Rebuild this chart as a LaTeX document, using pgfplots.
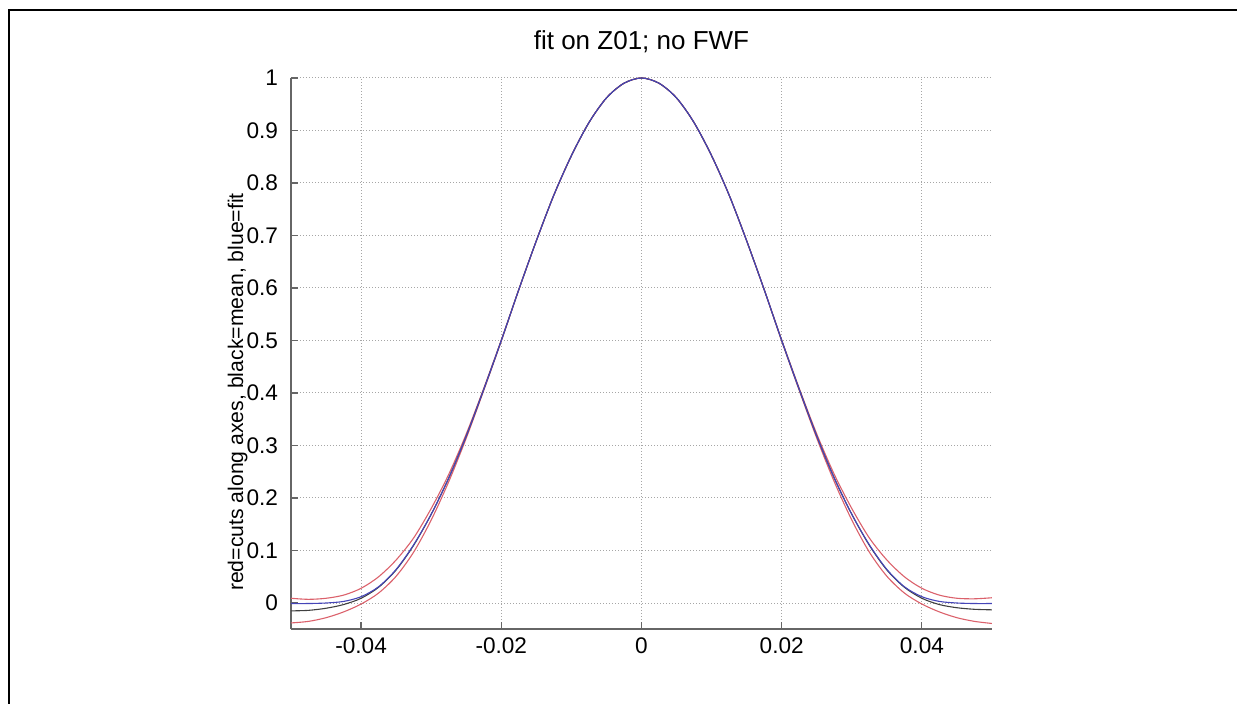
\documentclass[border=0pt]{standalone}
\usepackage{pgfplots}
\pgfplotsset{compat=1.18}
\usepackage{pgfplotstable}
\usepackage{fontspec}
\setmainfont{Liberation Sans}

% columns: x, fit (blue), mean (black), upper cut, lower cut
\pgfplotstableread{
x       blue    black   rup     rlo
-0.0500 -0.001  -0.015  0.009   -0.038
-0.0475 -0.001  -0.014  0.007   -0.035
-0.0450 0.000   -0.010  0.009   -0.028
-0.0425 0.003   -0.003  0.015   -0.017
-0.0400 0.012   0.009   0.028   -0.002
-0.0375 0.031   0.030   0.050   0.019
-0.0350 0.064   0.063   0.082   0.051
-0.0325 0.111   0.110   0.124   0.097
-0.0300 0.169   0.169   0.180   0.158
-0.0275 0.238   0.238   0.245   0.231
-0.0250 0.318   0.318   0.322   0.314
-0.0225 0.407   0.407   0.409   0.405
-0.0200 0.500   0.500   0.501   0.499
-0.0175 0.597   0.597   0.597   0.597
-0.0150 0.690   0.690   0.690   0.690
-0.0125 0.777   0.777   0.777   0.777
-0.0100 0.852   0.852   0.852   0.852
-0.0075 0.915   0.915   0.915   0.915
-0.0050 0.962   0.962   0.962   0.962
-0.0025 0.990   0.990   0.990   0.990
0.0000  1.000   1.000   1.000   1.000
0.0025  0.990   0.990   0.990   0.990
0.0050  0.962   0.962   0.962   0.962
0.0075  0.915   0.915   0.915   0.915
0.0100  0.852   0.852   0.852   0.852
0.0125  0.777   0.777   0.777   0.777
0.0150  0.690   0.690   0.690   0.690
0.0175  0.597   0.597   0.597   0.597
0.0200  0.500   0.500   0.501   0.499
0.0225  0.407   0.407   0.409   0.405
0.0250  0.318   0.318   0.322   0.314
0.0275  0.238   0.238   0.245   0.231
0.0300  0.169   0.169   0.180   0.158
0.0325  0.111   0.110   0.124   0.097
0.0350  0.064   0.063   0.082   0.051
0.0375  0.031   0.030   0.050   0.019
0.0400  0.012   0.009   0.028   -0.002
0.0425  0.003   -0.003  0.015   -0.017
0.0450  0.000   -0.009  0.009   -0.028
0.0475  -0.001  -0.012  0.008   -0.035
0.0500  -0.001  -0.013  0.010   -0.039
}\cuts

\definecolor{fitblue}{rgb}{0.27,0.27,0.72}
\definecolor{cutred}{rgb}{0.86,0.38,0.42}
\definecolor{meangray}{rgb}{0.25,0.25,0.25}

\begin{document}
\begin{tikzpicture}
% page and outer frame (1 px = 0.5pt)
\path[use as bounding box] (-145.5pt,-37.5pt) rectangle (473pt,314.5pt);
\draw[line width=1.1pt] (-141pt,-40pt) -- (-141pt,309.5pt) -- (480pt,309.5pt);
\begin{axis}[
    at={(0,0)}, anchor=south west,
    scale only axis,
    width=350.5pt, height=275.5pt,
    xmin=-0.05, xmax=0.05,
    ymin=-0.0495, ymax=1,
    xtick={-0.04,-0.02,0,0.02,0.04},
    ytick={0,0.1,0.2,0.3,0.4,0.5,0.6,0.7,0.8,0.9,1},
    scaled ticks=false,
    xticklabel style={/pgf/number format/fixed, /pgf/number format/precision=2},
    yticklabel style={/pgf/number format/fixed, /pgf/number format/precision=1},
    /pgf/number format/assume math mode=true,
    tick label style={font=\fontsize{11.3}{13}\selectfont},
    xticklabel style={yshift=-1pt},
    yticklabel style={xshift=-3pt},
    axis x line*=bottom, axis y line*=left,
    axis line style={black!60, line width=0.6pt},
    tick align=inside, major tick length=3.5pt,
    tick style={black!60, line width=0.6pt},
    grid=major,
    grid style={black!35, line width=0.5pt, dash pattern=on 0.5pt off 1pt},
    title={fit on Z01; no FWF},
    title style={at={(axis description cs:0.5,1)}, anchor=base, yshift=8pt,
        font=\fontsize{13}{15}\selectfont},
    ylabel={red=cuts along axes, black=mean, blue=fit},
    ylabel style={at={(axis description cs:-0.0615,0.43)}, anchor=south,
        inner sep=0pt, font=\fontsize{10.6}{12}\selectfont},
    every axis plot/.append style={line width=0.55pt},
]
\addplot[cutred, smooth] table[x=x, y=rup] {\cuts};
\addplot[cutred, smooth] table[x=x, y=rlo] {\cuts};
\addplot[meangray, smooth] table[x=x, y=black] {\cuts};
\addplot[fitblue, smooth] table[x=x, y=blue] {\cuts};
\end{axis}
\end{tikzpicture}
\end{document}
